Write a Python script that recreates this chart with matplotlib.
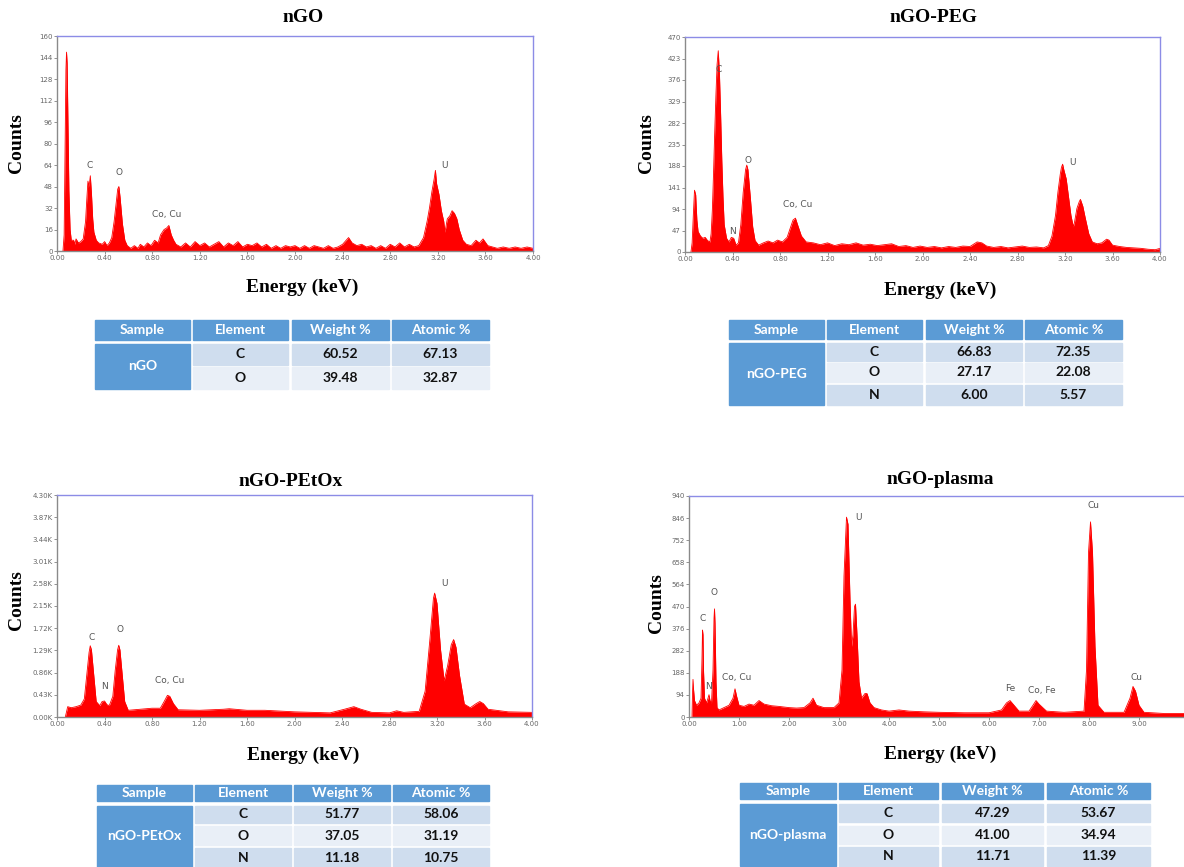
"""EDS spectra of nGO samples with element composition tables."""
import matplotlib
matplotlib.use('Agg')
import matplotlib.pyplot as plt
from matplotlib.patches import Rectangle

# ---- spectra (energy in keV, counts) ----
ngo_energy = [0.05, 0.06, 0.07, 0.075, 0.08, 0.085, 0.09, 0.10, 0.11, 0.12, 0.14, 0.15, 0.16, 0.18, 0.20,
              0.22, 0.24, 0.25, 0.26, 0.27, 0.28, 0.29, 0.30, 0.31, 0.33, 0.35, 0.38, 0.40, 0.42, 0.44,
              0.46, 0.48, 0.50, 0.51, 0.52, 0.53, 0.55, 0.57, 0.59, 0.62, 0.65, 0.68, 0.70, 0.73, 0.76,
              0.79, 0.82, 0.85, 0.87, 0.90, 0.92, 0.94, 0.96, 0.98, 1.00, 1.04, 1.08, 1.12, 1.16, 1.20,
              1.24, 1.28, 1.32, 1.36, 1.40, 1.44, 1.48, 1.52, 1.56, 1.60, 1.64, 1.68, 1.72, 1.76, 1.80,
              1.84, 1.88, 1.92, 1.96, 2.00, 2.04, 2.08, 2.12, 2.16, 2.20, 2.24, 2.28, 2.32, 2.36, 2.40,
              2.45, 2.48, 2.52, 2.56, 2.60, 2.64, 2.68, 2.72, 2.76, 2.80, 2.84, 2.88, 2.92, 2.96, 3.00,
              3.04, 3.08, 3.11, 3.13, 3.15, 3.17, 3.18, 3.19, 3.21, 3.23, 3.25, 3.26, 3.28, 3.30, 3.32,
              3.34, 3.36, 3.38, 3.41, 3.44, 3.48, 3.52, 3.55, 3.58, 3.62, 3.66, 3.70, 3.75, 3.80, 3.85,
              3.90, 3.95, 4.00]
ngo_counts = [0, 12, 95, 135, 148, 140, 110, 45, 16, 8, 8, 5, 9, 6, 7,
              9, 22, 38, 52, 48, 56, 42, 24, 14, 8, 6, 5, 7, 4, 6,
              10, 22, 38, 46, 48, 40, 20, 8, 4, 2, 4, 2, 5, 3, 6,
              4, 8, 6, 12, 16, 17, 19, 12, 8, 5, 3, 6, 3, 7, 4,
              6, 3, 5, 7, 3, 6, 4, 7, 3, 5, 4, 6, 3, 5, 2,
              4, 2, 4, 3, 4, 2, 4, 2, 4, 3, 2, 4, 2, 3, 5,
              10, 6, 4, 5, 3, 4, 2, 4, 2, 5, 3, 6, 3, 5, 3,
              4, 10, 22, 32, 44, 54, 60, 50, 42, 30, 22, 14, 24, 26, 30,
              28, 24, 16, 8, 5, 4, 8, 6, 9, 4, 3, 2, 3, 2, 3,
              2, 3, 2]

peg_energy = [0.05, 0.06, 0.07, 0.08, 0.09, 0.10, 0.11, 0.13, 0.15, 0.17, 0.19, 0.21, 0.22, 0.23, 0.24,
              0.25, 0.26, 0.27, 0.28, 0.29, 0.30, 0.31, 0.32, 0.33, 0.35, 0.37, 0.39, 0.41, 0.43, 0.45,
              0.47, 0.49, 0.51, 0.52, 0.53, 0.55, 0.57, 0.59, 0.62, 0.66, 0.70, 0.74, 0.78, 0.82, 0.86,
              0.89, 0.91, 0.93, 0.95, 0.98, 1.02, 1.08, 1.14, 1.20, 1.26, 1.32, 1.38, 1.44, 1.50, 1.56,
              1.62, 1.68, 1.74, 1.80, 1.86, 1.92, 1.98, 2.04, 2.10, 2.16, 2.22, 2.28, 2.34, 2.40, 2.46,
              2.50, 2.54, 2.60, 2.66, 2.72, 2.78, 2.84, 2.90, 2.96, 3.02, 3.06, 3.09, 3.12, 3.14, 3.16,
              3.17, 3.18, 3.19, 3.21, 3.23, 3.25, 3.27, 3.28, 3.30, 3.32, 3.33, 3.35, 3.37, 3.40, 3.43,
              3.47, 3.51, 3.55, 3.57, 3.60, 3.66, 3.72, 3.78, 3.84, 3.90, 3.96, 4.00]
peg_counts = [0, 20, 80, 135, 125, 70, 45, 35, 30, 32, 25, 22, 40, 90, 170,
              260, 340, 410, 440, 390, 300, 200, 120, 60, 30, 22, 32, 30, 15, 20,
              60, 130, 180, 190, 180, 120, 55, 25, 15, 20, 24, 20, 26, 22, 32,
              55, 70, 74, 58, 35, 22, 20, 16, 20, 14, 18, 16, 20, 15, 17,
              14, 16, 18, 12, 14, 10, 13, 10, 12, 9, 12, 10, 13, 12, 22,
              20, 13, 10, 12, 9, 11, 13, 10, 11, 9, 14, 35, 80, 130, 170,
              185, 192, 180, 160, 120, 80, 55, 65, 95, 110, 115, 100, 75, 40, 22,
              18, 20, 28, 26, 15, 12, 10, 9, 8, 6, 5, 8]

petox_energy = [0.07, 0.09, 0.12, 0.16, 0.20, 0.23, 0.25, 0.27, 0.28, 0.29, 0.31, 0.33, 0.36, 0.38, 0.40,
                0.42, 0.44, 0.47, 0.49, 0.51, 0.52, 0.53, 0.55, 0.57, 0.60, 0.70, 0.80, 0.87, 0.90, 0.93,
                0.95, 0.98, 1.02, 1.20, 1.40, 1.45, 1.60, 1.75, 2.00, 2.30, 2.42, 2.50, 2.56, 2.65, 2.80,
                2.86, 2.92, 3.05, 3.10, 3.14, 3.17, 3.18, 3.20, 3.23, 3.26, 3.29, 3.32, 3.34, 3.36, 3.39,
                3.43, 3.48, 3.53, 3.56, 3.59, 3.63, 3.80, 4.00]
petox_counts = [0, 200, 180, 200, 230, 350, 800, 1250, 1380, 1300, 800, 300, 220, 300, 310,
                240, 220, 400, 900, 1300, 1390, 1300, 800, 300, 130, 150, 170, 170, 290, 420,
                400, 260, 140, 130, 150, 160, 130, 130, 100, 80, 150, 200, 150, 90, 80,
                120, 90, 110, 500, 1500, 2300, 2400, 2200, 1300, 700, 1000, 1400, 1500, 1350, 800,
                250, 180, 260, 300, 260, 150, 100, 90]

plasma_energy = [0.06, 0.07, 0.08, 0.09, 0.11, 0.15, 0.20, 0.24, 0.26, 0.27, 0.28, 0.29, 0.31, 0.35, 0.38,
                 0.40, 0.42, 0.45, 0.48, 0.50, 0.51, 0.52, 0.54, 0.56, 0.60, 0.70, 0.80, 0.88, 0.92, 0.95,
                 1.00, 1.10, 1.20, 1.30, 1.40, 1.50, 1.65, 1.80, 2.00, 2.15, 2.30, 2.42, 2.48, 2.55, 2.70,
                 2.90, 3.00, 3.06, 3.10, 3.15, 3.18, 3.22, 3.25, 3.28, 3.31, 3.33, 3.36, 3.40, 3.45, 3.52,
                 3.56, 3.62, 3.70, 3.85, 4.00, 4.20, 4.40, 4.70, 5.00, 5.50, 6.00, 6.25, 6.35, 6.42, 6.48,
                 6.60, 6.80, 6.88, 6.94, 7.00, 7.15, 7.50, 7.90, 7.95, 7.99, 8.03, 8.07, 8.12, 8.18, 8.30,
                 8.70, 8.82, 8.88, 8.93, 9.00, 9.10, 9.50, 10.00]
plasma_counts = [0, 100, 160, 120, 70, 50, 60, 80, 250, 370, 350, 200, 80, 60, 80,
                 95, 70, 60, 200, 420, 460, 400, 150, 40, 30, 40, 50, 80, 120, 90,
                 50, 45, 55, 50, 70, 55, 48, 45, 40, 38, 40, 60, 80, 50, 40,
                 40, 60, 200, 600, 850, 820, 500, 300, 350, 470, 480, 350, 150, 80, 100,
                 100, 60, 40, 30, 25, 30, 25, 22, 20, 18, 18, 30, 60, 70, 55,
                 25, 25, 50, 70, 55, 25, 20, 25, 200, 700, 830, 700, 300, 50, 20,
                 20, 80, 130, 110, 50, 20, 15, 15]

# ---- peak labels ----
ngo_labels = [('C', 0.27, 60), ('O', 0.52, 55), ('Co, Cu', 0.92, 24), ('U', 3.26, 60)]
peg_labels = [('C', 0.28, 390), ('N', 0.40, 35), ('O', 0.53, 190), ('Co, Cu', 0.95, 95), ('U', 3.26, 185)]
petox_labels = [('C', 0.29, 1450), ('N', 0.40, 500), ('O', 0.53, 1600), ('Co, Cu', 0.95, 620), ('U', 3.26, 2500)]
plasma_labels = [('C', 0.28, 400), ('N', 0.38, 110), ('O', 0.50, 510), ('Co, Cu', 0.95, 150), ('U', 3.40, 830),
                 ('Fe', 6.42, 100), ('Co, Fe', 7.05, 95), ('Cu', 8.10, 880), ('Cu', 8.95, 150)]

# ---- ticks ----
ngo_yticks = [0, 16, 32, 48, 64, 80, 96, 112, 128, 144, 160]
peg_yticks = [0, 47, 94, 141, 188, 235, 282, 329, 376, 423, 470]
petox_yticks = [0, 430, 860, 1290, 1720, 2150, 2580, 3010, 3440, 3870, 4300]
plasma_yticks = [0, 94, 188, 282, 376, 470, 564, 658, 752, 846, 940]
xticks_4kev = [0.0, 0.4, 0.8, 1.2, 1.6, 2.0, 2.4, 2.8, 3.2, 3.6, 4.0]
xticks_10kev = [0, 1, 2, 3, 4, 5, 6, 7, 8, 9]

# ---- composition tables ----
table_header = ['Sample', 'Element', 'Weight %', 'Atomic %']
ngo_elements = ['C', 'O']
ngo_weight = ['60.52', '39.48']
ngo_atomic = ['67.13', '32.87']
peg_elements = ['C', 'O', 'N']
peg_weight = ['66.83', '27.17', '6.00']
peg_atomic = ['72.35', '22.08', '5.57']
petox_elements = ['C', 'O', 'N']
petox_weight = ['51.77', '37.05', '11.18']
petox_atomic = ['58.06', '31.19', '10.75']
plasma_elements = ['C', 'O', 'N']
plasma_weight = ['47.29', '41.00', '11.71']
plasma_atomic = ['53.67', '34.94', '11.39']

W, H = 1184, 867
fig = plt.figure(figsize=(W / 100, H / 100), dpi=100)

# overlay in pixel coords for tables
over = fig.add_axes([0, 0, 1, 1])
over.set_xlim(0, W)
over.set_ylim(H, 0)
over.axis('off')

TICK_FONT = ['Liberation Sans Narrow', 'DejaVu Sans']
SERIF = 'Liberation Serif'
TABLE_FONT = ['Lato', 'DejaVu Sans']


def px_rect(x0, y0, x1, y1):
    return [x0 / W, 1 - y1 / H, (x1 - x0) / W, (y1 - y0) / H]


def spectrum(rect, energy, counts, xlim, yticks, ylabels, xticks, xlabels, labels):
    ax = fig.add_axes(rect)
    ax.fill_between(energy, counts, 0, color='#ff0000', linewidth=0)
    ax.plot(energy, counts, color='#ff0000', linewidth=0.6)
    ax.set_xlim(*xlim)
    ax.set_ylim(yticks[0], yticks[-1])
    ax.set_yticks(yticks)
    ax.set_yticklabels(ylabels)
    ax.set_xticks(xticks)
    ax.set_xticklabels(xlabels)
    for lab in ax.get_xticklabels() + ax.get_yticklabels():
        lab.set_fontfamily(TICK_FONT)
        lab.set_fontsize(5)
        lab.set_color('#444444')
    ax.tick_params(length=2, width=0.5, pad=1, colors='#666666')
    for side in ['top', 'right']:
        ax.spines[side].set_color('#8c8ce6')
    for side in ['left', 'bottom']:
        ax.spines[side].set_color('#8a8a8a')
    for sp in ax.spines.values():
        sp.set_linewidth(1.0)
    for text, x, y in labels:
        ax.text(x, y, text, fontsize=6.5, color='#555555', ha='center', va='bottom')
    return ax


def draw_table(cols, header, rows, sample, elements, weights, atomics):
    blue = '#5b9bd5'
    shades = ['#cfddee', '#e9eff7', '#cfddee']
    # header
    for (c0, c1), txt in zip(cols, table_header):
        over.add_patch(Rectangle((c0, header[0]), c1 - c0, header[1] - header[0], color=blue))
        over.text((c0 + c1) / 2, (header[0] + header[1]) / 2, txt, ha='center', va='center',
                  color='white', fontsize=10, fontweight='bold', family=TABLE_FONT)
    # sample cell spanning all rows
    c0, c1 = cols[0]
    over.add_patch(Rectangle((c0, rows[0][0]), c1 - c0, rows[-1][1] - rows[0][0], color=blue))
    over.text((c0 + c1) / 2, (rows[0][0] + rows[-1][1]) / 2, sample, ha='center', va='center',
              color='white', fontsize=10, fontweight='bold', family=TABLE_FONT)
    for i, (r0, r1) in enumerate(rows):
        vals = [elements[i], weights[i], atomics[i]]
        for (c0, c1), v in zip(cols[1:], vals):
            over.add_patch(Rectangle((c0, r0), c1 - c0, r1 - r0, color=shades[i]))
            over.text((c0 + c1) / 2, (r0 + r1) / 2, v, ha='center', va='center',
                      color='#111111', fontsize=10, fontweight='bold', family=TABLE_FONT)


def labels_text(x_title, y_title, title, x_counts, y_counts, x_energy, y_energy):
    fig.text(x_title / W, 1 - y_title / H, title, ha='center', va='center',
             family=SERIF, fontweight='bold', fontsize=14)
    fig.text(x_counts / W, 1 - y_counts / H, 'Counts', ha='center', va='center', rotation=90,
             family=SERIF, fontweight='bold', fontsize=14)
    fig.text(x_energy / W, 1 - y_energy / H, 'Energy (keV)', ha='center', va='center',
             family=SERIF, fontweight='bold', fontsize=14)


x4 = ['%.2f' % v for v in xticks_4kev]
x10 = ['%.2f' % v for v in xticks_10kev]

spectrum(px_rect(57, 36, 533, 251), ngo_energy, ngo_counts, (0, 4.0),
         ngo_yticks, [str(v) for v in ngo_yticks], xticks_4kev, x4, ngo_labels)
spectrum(px_rect(685, 37, 1160, 252), peg_energy, peg_counts, (0, 4.0),
         peg_yticks, [str(v) for v in peg_yticks], xticks_4kev, x4, peg_labels)
spectrum(px_rect(57, 495, 532, 717), petox_energy, petox_counts, (0, 4.0),
         petox_yticks, ['%.2fK' % (v / 1000) for v in petox_yticks], xticks_4kev, x4, petox_labels)
spectrum(px_rect(689, 496, 1189, 717), plasma_energy, plasma_counts, (0, 10.0),
         plasma_yticks, [str(v) for v in plasma_yticks], xticks_10kev, x10, plasma_labels)

labels_text(303, 18, 'nGO', 17, 143, 302, 287)
labels_text(933, 18, 'nGO-PEG', 647, 143, 940, 290)
labels_text(291, 481, 'nGO-PEtOx', 17, 600, 303, 755)
labels_text(940, 479, 'nGO-plasma', 657, 603, 940, 754)

draw_table([(95, 190), (193, 288), (292, 389), (392, 489)], (320, 340),
           [(344, 365), (367, 389)], 'nGO', ngo_elements, ngo_weight, ngo_atomic)
draw_table([(729, 824), (827, 922), (926, 1022), (1025, 1122)], (320, 339),
           [(343, 361), (363, 382), (385, 405)], 'nGO-PEG', peg_elements, peg_weight, peg_atomic)
draw_table([(97, 192), (195, 291), (294, 390), (393, 489)], (785, 801),
           [(806, 823), (826, 845), (848, 867)], 'nGO-PEtOx', petox_elements, petox_weight, petox_atomic)
draw_table([(740, 836), (839, 938), (942, 1043), (1047, 1150)], (783, 799),
           [(804, 822), (826, 844), (847, 866)], 'nGO-plasma', plasma_elements, plasma_weight, plasma_atomic)

fig.savefig('out.png', dpi=100)
